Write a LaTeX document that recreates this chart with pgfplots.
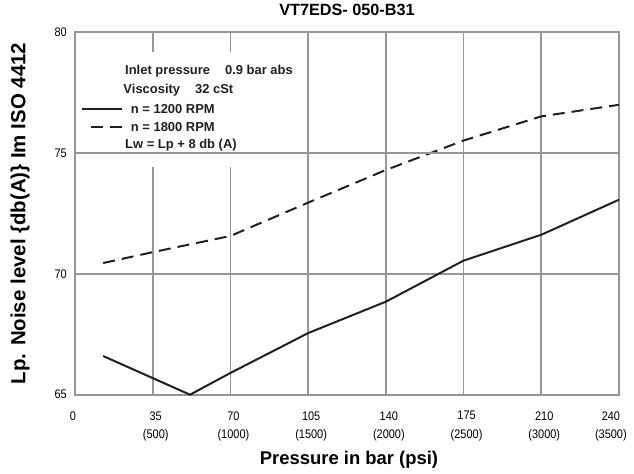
\documentclass[border=0pt]{standalone}
\usepackage{fontspec}
\setmainfont{Liberation Sans}
\newfontfamily\tickfont[FakeStretch=0.88]{Liberation Sans}
\usepackage{pgfplots}
\usepackage{pgfplotstable}
\pgfplotsset{compat=1.18}

\definecolor{gridgray}{RGB}{150,151,155}
\definecolor{ink}{RGB}{35,31,32}

% pressure in bar, noise level in db(A)
\pgfplotstableread{
p   L
12.7  66.60
51.8  65.00
70    65.90
105   67.55
140   68.85
175   70.55
210   71.62
245   73.07
}\lowspeed

\pgfplotstableread{
p   L
12.7  70.45
35    70.90
70    71.57
105   72.95
140   74.30
175   75.52
210   76.52
245   77.00
}\highspeed

\begin{document}
\begin{tikzpicture}
\useasboundingbox (-75bp,-79.3bp) rectangle (559bp,394.7bp);
\begin{axis}[
    at={(0,0)}, anchor=south west,
    scale only axis,
    width=544bp, height=362.4bp,
    xmin=0, xmax=245, ymin=65, ymax=80,
    clip=false,
    axis line style={gridgray, line width=1.6bp},
    major tick length=0pt,
    xtick={0,35,70,105,140,175,210,240},
    xticklabels={\hspace{-10bp}0, 35\\(500), 70\\(1000), 105\\(1500), 140\\(2000), 175\\(2500), 210\\(3000), 240\\(3500)},
    xticklabel style={font=\tickfont\fontsize{12.5}{18.5}\selectfont, align=center, anchor=north, inner sep=0pt, yshift=-16.5bp, xshift=3bp},
    extra x ticks={35,70,105,140,175,210},
    extra x tick labels={},
    extra x tick style={grid=major},
    ytick={65,70,75,80},
    yticklabel style={font=\tickfont\fontsize{12.5}{14}\selectfont, anchor=east, inner sep=0pt, xshift=-8bp},
    /pgf/number format/assume math mode=true,
    ymajorgrids,
    major grid style={gridgray, line width=1.6bp},
    xlabel={Pressure in bar (psi)},
    xlabel style={at={(axis description cs:0.5,0)}, anchor=base, yshift=-70bp, xshift=2bp,
        font=\bfseries\fontsize{18.5}{20}\selectfont},
    ylabel={Lp. Noise level \{db(A)\} Im ISO 4412},
    ylabel style={at={(axis description cs:-0.1011,0.5)}, anchor=center,
        font=\bfseries\fontsize{20.5}{22}\selectfont},
    title={VT7EDS- 050-B31},
    title style={at={(axis description cs:0.5,1)}, anchor=base, yshift=10.5bp,
        font=\bfseries\fontsize{16.3}{18}\selectfont},
]
\addplot[ink, line width=2bp] table[x=p, y=L] {\lowspeed};
\addplot[ink, line width=2bp, dash pattern=on 12bp off 7bp] table[x=p, y=L] {\highspeed};

% text block with white ground over the vertical grid lines
\path (rel axis cs:0,0) coordinate (o);
\fill[white] ([shift={(5bp,227.7bp)}]o) rectangle ([shift={(225bp,342.7bp)}]o);
\draw[gridgray, line width=1.6bp] (axis cs:0,75) -- (axis cs:245,75);
\begin{scope}[every node/.style={anchor=base west, inner sep=0pt, font=\bfseries\fontsize{13}{15}\selectfont, text=ink}]
\node at ([shift={(50bp,319.7bp)}]o) {Inlet pressure\hspace{15bp}0.9 bar abs};
\node at ([shift={(48.3bp,301.4bp)}]o) {Viscosity\hspace{15bp}32 cSt};
\node at ([shift={(55.7bp,281.4bp)}]o) {n = 1200 RPM};
\node at ([shift={(55.7bp,263bp)}]o) {n = 1800 RPM};
\node at ([shift={(50bp,246.4bp)}]o) {Lw = Lp + 8 db (A)};
\end{scope}
\draw[ink, line width=2bp] ([shift={(6.7bp,285.7bp)}]o) -- ([shift={(46.7bp,285.7bp)}]o);
\draw[ink, line width=2bp, dash pattern=on 12bp off 7bp] ([shift={(46.7bp,267.4bp)}]o) -- ([shift={(14bp,267.4bp)}]o);
\end{axis}
\end{tikzpicture}
\end{document}
